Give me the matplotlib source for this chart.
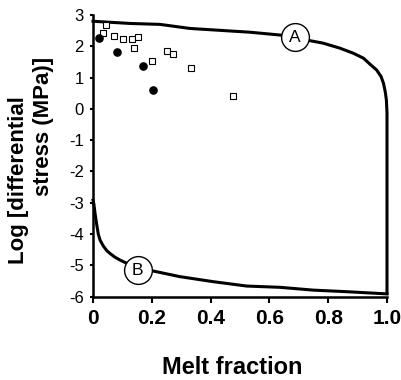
import matplotlib
matplotlib.use("Agg")
import matplotlib.pyplot as plt

plt.rcParams['font.family'] = ['Liberation Sans', 'DejaVu Sans']
plt.rcParams['axes.unicode_minus'] = False

# Curve A
curve_a_x = [0.0, 0.126, 0.228, 0.33, 0.466, 0.534, 0.636, 0.687, 0.738, 0.783, 0.84, 0.885, 0.92,
             0.942, 0.965, 0.980, 0.988, 0.994, 0.998, 1.0, 1.0, 1.0]
curve_a_y = [2.80, 2.73, 2.70, 2.57, 2.49, 2.45, 2.36, 2.29, 2.18, 2.10, 1.94, 1.78, 1.62,
             1.43, 1.24, 1.03, 0.82, 0.55, 0.28, -0.14, -1.0, -5.9]
# Curve B
curve_b_x = [0.0, 0.003, 0.007, 0.012, 0.018, 0.024, 0.035, 0.047, 0.058, 0.075, 0.092, 0.152,
             0.20, 0.296, 0.409, 0.523, 0.636, 0.749, 0.863, 1.0]
curve_b_y = [-2.92, -3.04, -3.34, -3.66, -4.00, -4.19, -4.38, -4.53, -4.62, -4.74, -4.83, -5.10,
             -5.17, -5.36, -5.52, -5.66, -5.70, -5.79, -5.84, -5.91]
# Filled circles
circ_x = [0.021, 0.083, 0.171, 0.203]
circ_y = [2.27, 1.82, 1.38, 0.61]
# Open squares
sq_x = [0.043, 0.035, 0.071, 0.101, 0.132, 0.153, 0.141, 0.200, 0.253, 0.273, 0.333, 0.475]
sq_y = [2.68, 2.43, 2.33, 2.24, 2.22, 2.31, 1.95, 1.53, 1.85, 1.75, 1.31, 0.40]
# Curve labels
label_text = ['A', 'B']
label_x = [0.687, 0.152]
label_y = [2.29, -5.15]

xticks = [0, 0.2, 0.4, 0.6, 0.8, 1.0]
xticklabels = ['0', '0.2', '0.4', '0.6', '0.8', '1.0']
yticks = [-6, -5, -4, -3, -2, -1, 0, 1, 2, 3]

fig = plt.figure(figsize=(4.01, 3.80), dpi=100)
ax = fig.add_axes([93/401, 1-296.7/380, 294/401, (296.7-15)/380])

ax.plot(curve_a_x, curve_a_y, color='black', lw=2.2, clip_on=False, solid_joinstyle='round')
ax.plot(curve_b_x, curve_b_y, color='black', lw=2.2, clip_on=False, solid_joinstyle='round')
ax.plot(sq_x, sq_y, linestyle='none', marker='s', ms=3.8, mfc='white', mec='black', mew=0.8, clip_on=False)
ax.plot(circ_x, circ_y, linestyle='none', marker='o', ms=5.2, mfc='black', mec='black', clip_on=False)

for t, lx, ly in zip(label_text, label_x, label_y):
    ax.plot([lx], [ly], marker='o', ms=20, mfc='white', mec='black', mew=1.0, zorder=5, clip_on=False)
    ax.text(lx, ly, t, ha='center', va='center', fontsize=12.5, zorder=6)

ax.set_xlim(0, 1.0)
ax.set_ylim(-6, 3)
ax.set_xticks(xticks)
ax.set_xticklabels(xticklabels, fontsize=15, fontweight='bold')
ax.set_yticks(yticks)
ax.set_yticklabels([str(v) for v in yticks], fontsize=12)

for s in ['top', 'right']:
    ax.spines[s].set_visible(False)
for s in ['left', 'bottom']:
    ax.spines[s].set_linewidth(1.8)
ax.tick_params(axis='x', direction='out', length=4, width=1.5, pad=5)
ax.tick_params(axis='y', direction='out', length=2.5, width=1.5, pad=4)

fig.text(232/401, 1-368/380, 'Melt fraction', ha='center', va='center', fontsize=17, fontweight='bold')
fig.text(19/401, 1-180/380, 'Log [differential', ha='center', va='center', rotation=90, fontsize=16, fontweight='bold')
fig.text(44/401, 1-126/380, 'stress (MPa)]', ha='center', va='center', rotation=90, fontsize=16, fontweight='bold')

fig.savefig('out.png', dpi=100)
